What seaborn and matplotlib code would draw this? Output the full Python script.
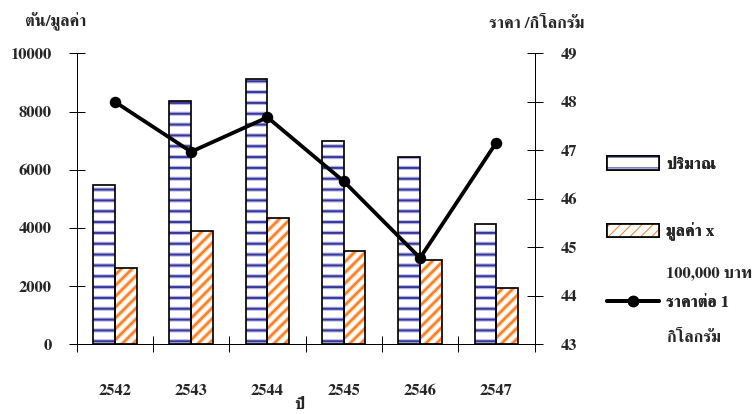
import numpy as np
import pandas as pd
import matplotlib
matplotlib.use("Agg")
import matplotlib.pyplot as plt
import seaborn as sns
from matplotlib.patches import Rectangle
from matplotlib.lines import Line2D
from matplotlib.legend_handler import HandlerTuple

# ---- data -------------------------------------------------------------
years = ["2542", "2543", "2544", "2545", "2546", "2547"]
quantity = [5470, 8360, 9130, 7000, 6440, 4140]          # ตัน
value = [2630, 3900, 4350, 3220, 2880, 1930]             # x 100,000 บาท
price = [48.0, 46.97, 47.68, 46.36, 44.78, 47.16]        # บาท / กิโลกรัม

qty_label = "ปริมาณ"
val_label = "มูลค่า x 100,000 บาท"
left_ticks = [0, 2000, 4000, 6000, 8000, 10000]
right_ticks = [43, 44, 45, 46, 47, 48, 49]

# ---- style ------------------------------------------------------------
DPI = 65
PT = 72 / DPI                      # points per pixel
W, H = 755, 414

sns.set_style("white")
plt.rcParams["font.family"] = ["FreeSerif", "DejaVu Serif"]
plt.rcParams["font.weight"] = "bold"
FS = 16.5 * PT

blue_halo, blue_core = "#b9b9e8", "#37379a"
orange_halo, orange_core = "#ffd6b8", "#ff7f22"
HATCH = {True: "-", False: "//"}
HALO_W = {True: 4.2, False: 4.4}
CORE_W = {True: 2.0, False: 2.4}


def set_hatch_width(patch, px):
    if hasattr(patch, "set_hatch_linewidth"):
        patch.set_hatch_linewidth(px * PT)


fig = plt.figure(figsize=(W / DPI, H / DPI), dpi=DPI)
ax = fig.add_axes([76.7 / W, 1 - 344.3 / H, (534.5 - 76.7) / W, (344.3 - 53.3) / H])

df = pd.DataFrame({
    "year": years * 2,
    "series": [qty_label] * len(years) + [val_label] * len(years),
    "amount": quantity + value,
})
sns.barplot(data=df, x="year", y="amount", hue="series",
            hue_order=[qty_label, val_label], palette=["white", "white"],
            width=0.57, saturation=1, linewidth=0, legend=False, ax=ax)

# layered hatching: soft halo, dark stripe core, black outline
for i, bar in enumerate(list(ax.patches)):
    is_qty = i < len(years)
    hatch = HATCH[is_qty]
    halo, core = (blue_halo, blue_core) if is_qty else (orange_halo, orange_core)
    bar.set_facecolor("white")
    bar.set_edgecolor(halo)
    bar.set_linewidth(0)
    bar.set_hatch(hatch)
    set_hatch_width(bar, HALO_W[is_qty])
    z = bar.get_zorder()
    core_layer = Rectangle(bar.get_xy(), bar.get_width(), bar.get_height(),
                           fill=False, edgecolor=core, linewidth=0, hatch=hatch,
                           zorder=z + 0.1)
    set_hatch_width(core_layer, CORE_W[is_qty])
    ax.add_patch(core_layer)
    ax.add_patch(Rectangle(bar.get_xy(), bar.get_width(), bar.get_height(),
                           fill=False, edgecolor="black", linewidth=1.7 * PT,
                           zorder=z + 0.2))

ax.set_xlim(-0.5, len(years) - 0.5)
ax.set_ylim(0, 10000)
ax.set_xlabel("")
ax.set_ylabel("")
ax.set_xticks(np.arange(-0.5, len(years), 1.0))
ax.set_xticklabels([])
ax.set_xticks(np.arange(len(years)), minor=True)
ax.set_xticklabels(years, minor=True, fontsize=FS, fontweight="bold")
ax.tick_params(axis="x", which="major", direction="inout", length=16 * PT,
               width=1 * PT, color="black", bottom=True)
ax.tick_params(axis="x", which="minor", length=0, pad=40 * PT, bottom=True)
ax.set_yticks(left_ticks)
ax.set_yticklabels([str(t) for t in left_ticks], fontsize=FS, fontweight="bold")
ax.tick_params(axis="y", direction="inout", length=16 * PT, width=1 * PT,
               color="black", pad=17 * PT, left=True)
for side in ("top", "right"):
    ax.spines[side].set_visible(False)
for side in ("left", "bottom"):
    ax.spines[side].set_color("black")
    ax.spines[side].set_linewidth(1 * PT)

# price line on the secondary axis
ax2 = ax.twinx()
sns.lineplot(x=np.arange(len(years)), y=price, ax=ax2, color="black",
             linewidth=3.8 * PT, marker="o", markersize=11.5 * PT,
             markeredgecolor="black", markeredgewidth=0)
ax2.set_xlim(-0.5, len(years) - 0.5)
ax2.set_ylim(43, 49)
ax2.set_yticks(right_ticks)
ax2.set_yticklabels([str(t) for t in right_ticks], fontsize=FS, fontweight="bold")
ax2.tick_params(axis="y", direction="inout", length=16 * PT, width=1 * PT,
                color="black", pad=18 * PT, right=True)
ax2.set_xlabel("")
ax2.set_ylabel("")
for side in ("top", "left", "bottom"):
    ax2.spines[side].set_visible(False)
ax2.spines["right"].set_color("black")
ax2.spines["right"].set_linewidth(1 * PT)

# axis titles
fig.text(56 / W, 1 - 22 / H, "ตัน/มูลค่า", ha="center", va="center", fontsize=FS)
fig.text(537 / W, 1 - 23 / H, "ราคา /กิโลกรัม", ha="center", va="center", fontsize=FS)
fig.text(299 / W, 1 - 405 / H, "ปี", ha="center", va="center", fontsize=FS)

# legend
def bar_handle(halo, core, is_qty):
    hatch = HATCH[is_qty]
    a = Rectangle((0, 0), 1, 1, facecolor="white", edgecolor=halo, linewidth=0, hatch=hatch)
    set_hatch_width(a, HALO_W[is_qty])
    b = Rectangle((0, 0), 1, 1, fill=False, edgecolor=core, linewidth=0, hatch=hatch)
    set_hatch_width(b, CORE_W[is_qty])
    c = Rectangle((0, 0), 1, 1, fill=False, edgecolor="black", linewidth=1.7 * PT)
    return (a, b, c)


line_handle = Line2D([], [], color="black", linewidth=3.8 * PT, marker="o",
                     markersize=11.5 * PT, markeredgewidth=0)

legend_kw = dict(frameon=False, loc="center left", borderpad=0, borderaxespad=0,
                 handlelength=52 * PT / FS, handleheight=14 * PT / FS,
                 handletextpad=7 * PT / FS, numpoints=1,
                 prop={"size": FS, "weight": "bold"},
                 handler_map={tuple: HandlerTuple(ndivide=1)},
                 bbox_transform=fig.transFigure)

entries = [
    (bar_handle(blue_halo, blue_core, True), "ปริมาณ", 164),
    (bar_handle(orange_halo, orange_core, False), "มูลค่า x", 232),
    (line_handle, "ราคาต่อ 1", 302),
]
for handle, label, yc in entries:
    leg = fig.legend([handle], [label], bbox_to_anchor=(607 / W, 1 - yc / H), **legend_kw)
    fig.add_artist(leg)

fig.text(666 / W, 1 - 273 / H, "100,000 บาท", ha="left", va="center", fontsize=FS)
fig.text(666 / W, 1 - 338 / H, "กิโลกรัม", ha="left", va="center", fontsize=FS)

fig.savefig("out.png", dpi=DPI)
